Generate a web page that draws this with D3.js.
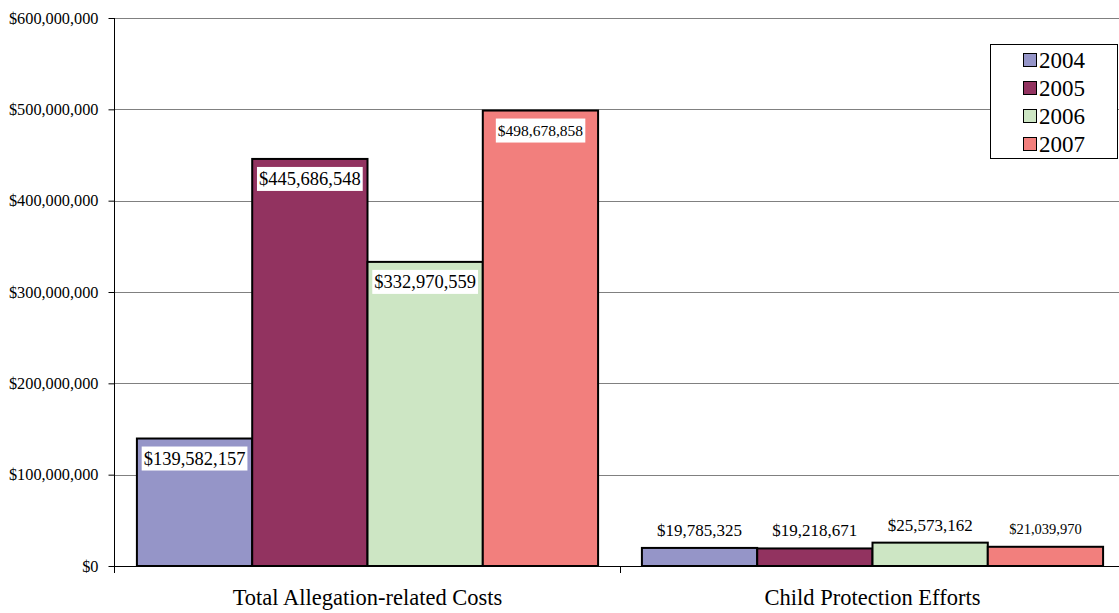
<!DOCTYPE html>
<html>
<head>
<meta charset="utf-8">
<script src="https://cdn.jsdelivr.net/npm/d3@7"></script>
<style>
  body { margin: 0; background: #fff; }
  svg { display: block; }
  svg text { font-family: "Liberation Serif", "Times New Roman", Times, serif; fill: #000; }
</style>
</head>
<body>
<svg width="1119" height="613"></svg>
<script>
var categories = ["Total Allegation-related Costs", "Child Protection Efforts"];
var years = ["2004", "2005", "2006", "2007"];
var costs = [139582157, 445686548, 332970559, 498678858];
var protection = [19785325, 19218671, 25573162, 21039970];
var yTicks = [0, 100000000, 200000000, 300000000, 400000000, 500000000, 600000000];
var colors = ["#9595c8", "#923360", "#cde6c4", "#f27f7d"];

function draw() {
    var svg = d3.select("svg");

    var plotLeft = 115, plotRight = 1125, plotTop = 18, plotBottom = 566;

    var y = d3.scaleLinear().domain([0, 600000000]).range([plotBottom, plotTop]);
    var x0 = d3.scaleBand().domain(categories).range([plotLeft, plotRight]);
    var x1 = d3.scaleBand().domain(years).range([0, x0.bandwidth()]).paddingOuter(0.19);
    var color = d3.scaleOrdinal().domain(years).range(colors);
    var fmt = function (v) { return "$" + d3.format(",")(v); };

    var rows = categories.map(function (c, ci) {
        var vals = ci == 0 ? costs : protection;
        return { cat: c, ci: ci, values: years.map(function (yr, i) { return { year: yr, value: vals[i], ci: ci }; }) };
    });

    // gridlines
    svg.append("g").selectAll("line")
        .data(yTicks.slice(1))
        .enter().append("line")
        .attr("x1", plotLeft).attr("x2", 1119)
        .attr("y1", function (d) { return Math.round(y(d)) + 0.5; })
        .attr("y2", function (d) { return Math.round(y(d)) + 0.5; })
        .attr("stroke", "#808080").attr("stroke-width", 1);

    // y axis
    var yAxis = svg.append("g")
        .attr("transform", "translate(" + (plotLeft - 0.5) + ",0)")
        .call(d3.axisLeft(y).tickValues(yTicks).tickFormat(fmt).tickSize(6).tickPadding(10))
        .attr("font-family", null).attr("font-size", null);
    yAxis.select(".domain").remove();
    yAxis.selectAll(".tick line").attr("stroke", "#000");
    yAxis.selectAll("text").style("font-size", "16.3px");
    svg.append("line").attr("x1", plotLeft - 0.5).attr("x2", plotLeft - 0.5)
        .attr("y1", plotTop).attr("y2", plotBottom + 7).attr("stroke", "#000");

    // bars
    var groups = svg.append("g").selectAll("g")
        .data(rows)
        .enter().append("g")
        .attr("transform", function (d) { return "translate(" + x0(d.cat) + ",0)"; });

    groups.selectAll("rect")
        .data(function (d) { return d.values; })
        .enter().append("rect")
        .attr("x", function (d) { return x1(d.year); })
        .attr("y", function (d) { return y(d.value); })
        .attr("width", x1.bandwidth())
        .attr("height", function (d) { return plotBottom - y(d.value); })
        .attr("fill", function (d) { return color(d.year); })
        .attr("stroke", "#000").attr("stroke-width", 2);

    // x axis
    svg.append("line").attr("x1", plotLeft).attr("x2", 1119)
        .attr("y1", plotBottom + 0.5).attr("y2", plotBottom + 0.5).attr("stroke", "#000");
    svg.append("g").selectAll("line")
        .data(categories.slice(1))
        .enter().append("line")
        .attr("x1", function (d) { return x0(d) + 0.5; })
        .attr("x2", function (d) { return x0(d) + 0.5; })
        .attr("y1", plotBottom).attr("y2", plotBottom + 7).attr("stroke", "#000");
    svg.append("g").selectAll("text")
        .data(categories)
        .enter().append("text")
        .attr("x", function (d) { return x0(d) + x0.bandwidth() / 2; })
        .attr("y", 605)
        .attr("text-anchor", "middle")
        .style("font-size", "22.5px")
        .text(function (d) { return d; });

    // value labels
    var labels = groups.selectAll("g.lab")
        .data(function (d) { return d.values; })
        .enter().append("g").attr("class", "lab");

    labels.each(function (d) {
        var g = d3.select(this);
        var cx = x1(d.year) + x1.bandwidth() / 2;
        var size = d.year == "2007" ? (d.ci == 0 ? 15.5 : 14.5) : (d.ci == 0 ? 18.5 : 17);
        var cy = d.ci == 0 ? y(d.value) + 20 : y(d.value) - 18;
        var t = g.append("text")
            .attr("x", cx).attr("y", cy)
            .attr("text-anchor", "middle")
            .attr("dy", "0.35em")
            .style("font-size", size + "px")
            .text(fmt(d.value));
        if (d.ci == 0) {
            var bb = t.node().getBBox();
            g.insert("rect", "text")
                .attr("x", bb.x - 2).attr("y", cy - 12)
                .attr("width", bb.width + 4).attr("height", 24)
                .attr("fill", "#fff");
        }
    });

    // legend
    var legend = svg.append("g").attr("transform", "translate(990,44)");
    legend.append("rect")
        .attr("x", 0.5).attr("y", 0.5).attr("width", 127).attr("height", 114)
        .attr("fill", "#fff").attr("stroke", "#000");
    var items = legend.selectAll("g.item")
        .data(years)
        .enter().append("g").attr("class", "item")
        .attr("transform", function (d, i) { return "translate(0," + (16 + i * 28) + ")"; });
    items.append("rect")
        .attr("x", 33.5).attr("y", -6.5).attr("width", 13).attr("height", 13)
        .attr("fill", function (d) { return color(d); })
        .attr("stroke", "#000");
    items.append("text")
        .attr("x", 49).attr("y", 0).attr("dy", "0.35em")
        .style("font-size", "23px")
        .text(function (d) { return d; });
}

draw();
</script>
</body>
</html>
